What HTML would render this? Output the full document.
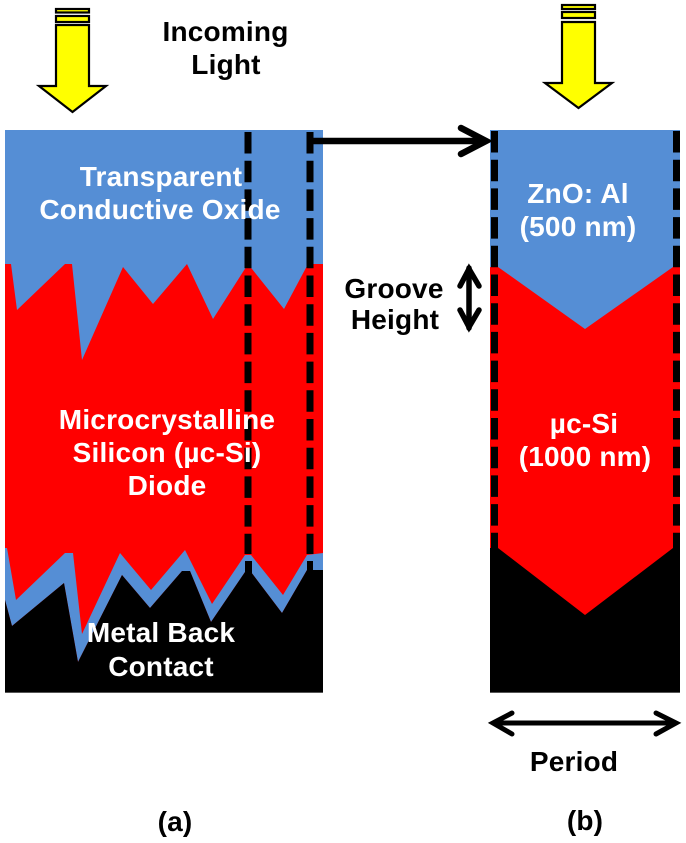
<!DOCTYPE html>
<html>
<head>
<meta charset="utf-8">
<style>
html,body{margin:0;padding:0;background:#fff;width:686px;height:843px;overflow:hidden}
svg{display:block;filter:blur(0.35px)}
text{font-family:"Liberation Sans",sans-serif;font-weight:bold;font-size:28px;letter-spacing:0.2px;text-anchor:middle}
.w{fill:#fff}
.k{fill:#000}
</style>
</head>
<body>
<svg width="686" height="843" viewBox="0 0 686 843" xmlns="http://www.w3.org/2000/svg">
<rect width="686" height="843" fill="#fff"/>

<!-- Left panel -->
<rect x="5" y="130" width="318" height="563" fill="#558ed5"/>
<polygon fill="#ff0000" points="5,264 11,264 17,310 65,264 72,264 82,360 123,267 153,304 187,264 213,319 248,264 284,309 308,264 323,264 323,693 5,693"/>

<!-- Left dashes -->
<g stroke="#000" stroke-width="7" fill="none" stroke-dasharray="21.5 7.2">
<line x1="248" y1="132" x2="248" y2="554"/>
<line x1="310" y1="132" x2="310" y2="554"/>
</g>

<!-- Left lower band and metal -->
<polygon fill="#558ed5" points="5,548 7,548 16,600 65,553 73,553 82,634 120,553 151,590 185,550 212,604 245,555 251,555 283,595 307,555 323,553 323,570 307,570 282,613 251,572 245,572 211,622 190,571 182,571 150,608 122,575 78,662 64,583 12,626 5,600"/>
<polygon fill="#000" points="5,600 12,626 64,583 78,662 122,575 150,608 182,571 190,571 211,622 245,572 251,572 282,613 307,570 323,570 323,693 5,693"/>
<rect x="245" y="561" width="7" height="12" fill="#000"/>
<rect x="307" y="561" width="6" height="10" fill="#000"/>
<rect x="5" y="692" width="318" height="1" fill="#555"/>

<!-- Right panel -->
<rect x="490" y="130" width="190" height="563" fill="#558ed5"/>
<polygon fill="#ff0000" points="490,267 498,267 585,329 673,267 680,267 680,693 490,693"/>
<g stroke="#000" stroke-width="7" fill="none" stroke-dasharray="21.5 7.2">
<line x1="494.5" y1="131" x2="494.5" y2="560"/>
<line x1="676.500" y1="131" x2="676.500" y2="560"/>
</g>
<polygon fill="#000" points="490,548 498,548 585,615 673,548 680,548 680,693 490,693"/>
<rect x="490" y="692" width="190" height="1" fill="#555"/>

<!-- Yellow arrows -->
<g fill="#ffff00" stroke="#000" stroke-width="2.2" stroke-linejoin="miter">
<rect x="56" y="9" width="33" height="3.5"/>
<rect x="56" y="16" width="33" height="6"/>
<polygon points="56,25 89,25 89,86 106,86 72.5,112 39,86 56,86"/>
<rect x="562" y="5" width="33" height="4"/>
<rect x="562" y="12" width="33" height="6"/>
<polygon points="562,22 595,22 595,83 612,83 578.5,108 545,83 562,83"/>
</g>

<!-- Black arrows -->
<g stroke="#000" stroke-width="6.5" fill="none" stroke-linecap="round" stroke-linejoin="miter">
<line x1="312" y1="141" x2="484" y2="141" stroke-linecap="butt"/>
<polyline points="461,128 486,141 461,154"/>
</g>
<g stroke="#000" stroke-width="5.5" fill="none" stroke-linecap="round" stroke-linejoin="miter">
<line x1="469" y1="268" x2="469" y2="328"/>
<polyline points="460,286 469,269 479,286" />
<polyline points="460,310 469,327 479,310"/>
</g>
<g stroke="#000" stroke-width="5" fill="none" stroke-linecap="round" stroke-linejoin="miter">
<line x1="494" y1="723" x2="675" y2="723"/>
<polyline points="512,713 493,723 512,734"/>
<polyline points="656,713 676,723 656,734"/>
</g>

<!-- Text -->
<text class="k" x="225.500" y="41">Incoming</text>
<text class="k" x="226" y="74">Light</text>
<text class="w" x="161" y="186">Transparent</text>
<text class="w" x="160" y="219">Conductive Oxide</text>
<text class="w" x="167" y="429">Microcrystalline</text>
<text class="w" x="167" y="462">Silicon (µc-Si)</text>
<text class="w" x="167" y="495">Diode</text>
<text class="w" x="161" y="642">Metal Back</text>
<text class="w" x="161" y="676">Contact</text>
<text class="k" x="394" y="298">Groove</text>
<text class="k" x="395" y="329">Height</text>
<text class="w" x="578" y="203">ZnO: Al</text>
<text class="w" x="578" y="236">(500 nm)</text>
<text class="w" x="584" y="433">µc-Si</text>
<text class="w" x="585" y="466">(1000 nm)</text>
<text class="k" x="574" y="771">Period</text>
<text class="k" x="175" y="831">(a)</text>
<text class="k" x="585" y="830">(b)</text>
</svg>
</body>
</html>
